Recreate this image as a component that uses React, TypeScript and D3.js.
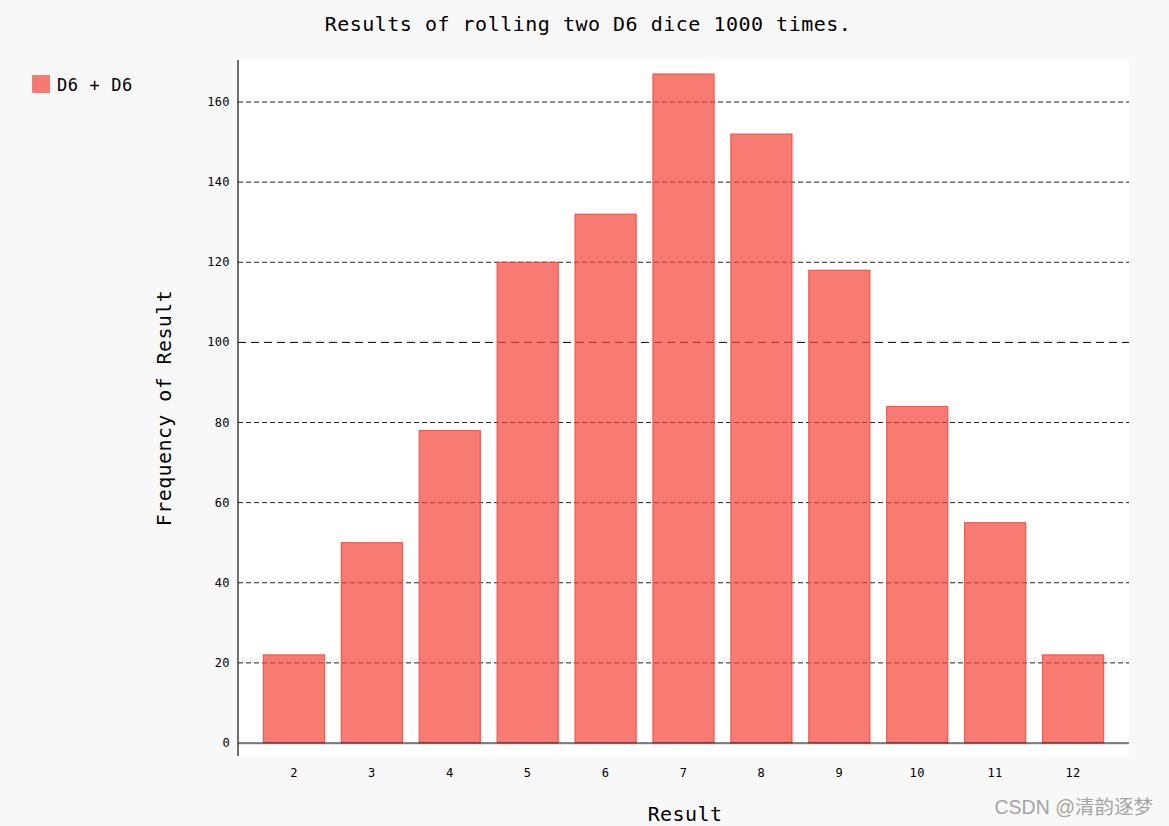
import React from "react";
import * as d3 from "d3";

const categories = ["2", "3", "4", "5", "6", "7", "8", "9", "10", "11", "12"];
const frequencies = [22, 50, 78, 120, 132, 167, 152, 118, 84, 55, 22];
const yTicks = [0, 20, 40, 60, 80, 100, 120, 140, 160];
const seriesName = "D6 + D6";
const titleText = "Results of rolling two D6 dice 1000 times.";
const xTitle = "Result";
const yTitle = "Frequency of Result";
const watermark = "CSDN @清韵逐梦";

const W = 1169;
const H = 826;
const plot = { left: 238, right: 1129, top: 60, bottom: 756 };
const mono = "'DejaVu Sans Mono', 'Liberation Mono', monospace";
const red = "#F44336";

export default function App() {
  const x = d3
    .scaleBand<string>()
    .domain(categories)
    .range([255, 1112])
    .paddingInner(0.215)
    .paddingOuter(0.1075);
  const y = d3.scaleLinear().domain([0, 160]).range([743, 102]);

  return (
    <svg
      width={W}
      height={H}
      style={{ position: "absolute", left: 0, top: 0, background: "#f8f8f8" }}
    >
      <rect x={0} y={0} width={W} height={H} fill="#f8f8f8" />
      <rect
        x={plot.left}
        y={plot.top}
        width={plot.right - plot.left}
        height={plot.bottom - plot.top}
        fill="#ffffff"
      />
      <text
        x={588}
        y={31}
        textAnchor="middle"
        fontFamily={mono}
        fontSize={20}
        letterSpacing={0.5}
        fill="#000"
      >
        {titleText}
      </text>
      {/* legend */}
      <rect x={32.5} y={75.5} width={17} height={17} fill={red} fillOpacity={0.7} stroke={red} strokeOpacity={0.5} />
      <text x={57} y={91} fontFamily={mono} fontSize={17} letterSpacing={0.6} fill="#000">
        {seriesName}
      </text>
      {/* guides */}
      {yTicks.filter((t) => t !== 0).map((t) => (
        <line
          key={"g" + t}
          x1={plot.left}
          x2={plot.right}
          y1={y(t)}
          y2={y(t)}
          stroke={t === 100 ? "#000" : "#222"}
          strokeWidth={1}
          strokeDasharray={t === 100 ? "8,5" : "5,3"}
        />
      ))}
      {yTicks.map((t) => (
        <text
          key={"yt" + t}
          x={230}
          y={y(t) + 4}
          textAnchor="end"
          fontFamily={mono}
          fontSize={12}
          letterSpacing={0.4}
          fill="#000"
        >
          {t}
        </text>
      ))}
      {/* bars */}
      {categories.map((c, i) => (
        <rect
          key={"b" + c}
          x={x(c)}
          y={y(frequencies[i])}
          width={x.bandwidth()}
          height={y(0) - y(frequencies[i])}
          fill={red}
          fillOpacity={0.7}
          stroke={red}
          strokeOpacity={0.8}
          strokeWidth={1.2}
        />
      ))}
      {/* axes */}
      <line x1={plot.left} x2={plot.right} y1={y(0) + 1} y2={y(0) + 1} stroke="#ccc" strokeWidth={1} />
      <line x1={plot.left} x2={plot.right} y1={y(0)} y2={y(0)} stroke="#111" strokeWidth={1.2} />
      <line x1={plot.left} x2={plot.left} y1={plot.top} y2={plot.bottom} stroke="#111" strokeWidth={1.2} />
      {categories.map((c) => (
        <text
          key={"xt" + c}
          x={(x(c) as number) + x.bandwidth() / 2}
          y={777}
          textAnchor="middle"
          fontFamily={mono}
          fontSize={12}
          letterSpacing={0.4}
          fill="#000"
        >
          {c}
        </text>
      ))}
      <text
        x={685}
        y={821}
        textAnchor="middle"
        fontFamily={mono}
        fontSize={20}
        letterSpacing={0.4}
        fill="#000"
      >
        {xTitle}
      </text>
      <text
        transform={`translate(171,408) rotate(-90)`}
        textAnchor="middle"
        fontFamily={mono}
        fontSize={20}
        letterSpacing={0.4}
        fill="#000"
      >
        {yTitle}
      </text>
      <text
        x={1153}
        y={814}
        textAnchor="end"
        fontFamily="'Liberation Sans', 'Noto Sans CJK SC', sans-serif"
        fontSize={19.5}
        fill="#999"
        fillOpacity={0.9}
      >
        {watermark}
      </text>
    </svg>
  );
}
